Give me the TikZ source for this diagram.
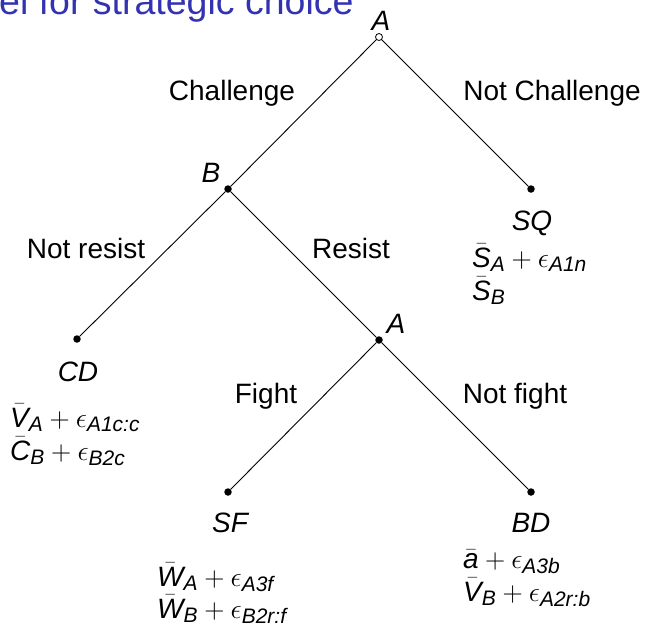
\documentclass[tikz,border=0pt]{standalone}
\usepackage{fix-cm}
\usepackage{amsmath}
\usepackage{fontspec}
\setmainfont{Liberation Sans}
\DeclareMathSizes{28}{28}{21}{16}
\definecolor{titleblue}{RGB}{51,51,178}
\newcommand\vi[1]{\text{\itshape #1}}
\tikzset{
  dotnode/.style={circle,fill=black,inner sep=0pt,minimum size=7.5pt},
  opennode/.style={circle,draw=black,fill=white,line width=0.8pt,inner sep=0pt,minimum size=7pt},
  edgelbl/.style={anchor=base,inner sep=0pt,font=\fontsize{28}{33}\selectfont},
  leaflbl/.style={anchor=base,inner sep=0pt,font=\fontsize{28}{33}\selectfont\itshape},
  pay/.style={anchor=base west,inner sep=0pt,font=\fontsize{28}{33}\selectfont},
  branch/.style={line width=0.9pt,black}
}
\begin{document}
\begin{tikzpicture}[x=1pt,y=-1pt]
\useasboundingbox (0,0) rectangle (647,625);
\node[anchor=base west,inner sep=0pt,text=titleblue,font=\fontsize{37.5}{40}\selectfont] (title) at (-1,14) {el for strategic choice};
% decision nodes
\node[dotnode] (B) at (228,189) {};
\node[dotnode] (SQ) at (531,189) {};
\node[dotnode] (CD) at (77,339) {};
\node[dotnode] (A2) at (379,340) {};
\node[dotnode] (SF) at (228,492) {};
\node[dotnode] (BD) at (531,492) {};
\draw[branch] (379,37) coordinate (rootc) -- (B);
\draw[branch] (rootc) -- (SQ);
\draw[branch] (B) -- (CD);
\draw[branch] (B) -- (A2);
\draw[branch] (A2) -- (SF);
\draw[branch] (A2) -- (BD);
\node[opennode] (A) at (rootc) {};
% player labels
\node[leaflbl] (Alab) at (381,30) {A};
\node[leaflbl] (Blab) at (211,182) {B};
\node[leaflbl] (A2lab) at (396,333) {A};
% edge labels
\node[edgelbl] (l1) at (232,100) {Challenge};
\node[edgelbl] (l2) at (552,100) {Not Challenge};
\node[edgelbl] (l3) at (86,258) {Not resist};
\node[edgelbl] (l4) at (351,258) {Resist};
\node[edgelbl] (l5) at (266,403) {Fight};
\node[edgelbl] (l6) at (515,403) {Not fight};
% outcome labels
\node[leaflbl] (SQlab) at (532,230) {SQ};
\node[leaflbl] (CDlab) at (78,381) {CD};
\node[leaflbl] (SFlab) at (230,532) {SF};
\node[leaflbl] (BDlab) at (531,532) {BD};
% payoffs
\node[pay] (p1) at (472,267) {$\bar{\vi{S}}_{\vi{A}}+\epsilon_{\vi{A1n}}$};
\node[pay] (p2) at (472,300) {$\bar{\vi{S}}_{\vi{B}}$};
\node[pay] (p3) at (10,427) {$\bar{\vi{V}}_{\vi{A}}+\epsilon_{\vi{A1c:c}}$};
\node[pay] (p4) at (10,460) {$\bar{\vi{C}}_{\vi{B}}+\epsilon_{\vi{B2c}}$};
\node[pay] (p5) at (157,586) {$\bar{\vi{W}}_{\vi{A}}+\epsilon_{\vi{A3f}}$};
\node[pay] (p6) at (157,618) {$\bar{\vi{W}}_{\vi{B}}+\epsilon_{\vi{B2r:f}}$};
\node[pay] (p7) at (463,568) {$\bar{\vi{a}}+\epsilon_{\vi{A3b}}$};
\node[pay] (p8) at (463,601) {$\bar{\vi{V}}_{\vi{B}}+\epsilon_{\vi{A2r:b}}$};
\end{tikzpicture}
\end{document}
